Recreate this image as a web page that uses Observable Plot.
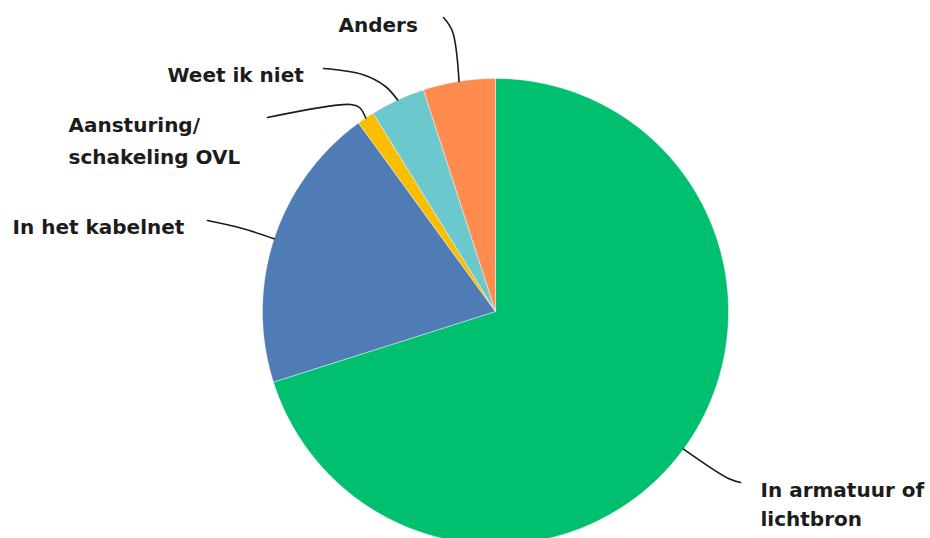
<!DOCTYPE html>
<html><head><meta charset="utf-8">
<script src="https://cdn.jsdelivr.net/npm/d3@7"></script>
<script src="https://cdn.jsdelivr.net/npm/@observablehq/plot@0.6"></script>
<style>body{margin:0;background:#fff;overflow:hidden}</style>
</head><body><div id="chart"></div>
<script>
// Data
const categories = ["In armatuur of lichtbron", "In het kabelnet", "Aansturing/ schakeling OVL", "Weet ik niet", "Anders"];
const values = [70.1, 19.9, 1.2, 3.8, 5.0];
const colors = ["#00BF6F", "#507CB6", "#F9BE00", "#6BC8CD", "#FF8B4F"];
const labelText = ["In armatuur of\nlichtbron", "In het kabelnet", "Aansturing/\nschakeling OVL", "Weet ik niet", "Anders"];

// Layout (pixels)
const W = 930, H = 538;
const cx = 495, cy = 311, R = 233;
const labelPos = [[760, 476], [12, 216], [68, 109], [167, 64], [338, 14]];
const labelLineHeight = [1.45, 1.2, 1.6, 1.2, 1.2];
// leader line: start point near label + bend points (end is computed on the slice)
const leaderBends = [
  [[740, 482], [728, 478]],
  [[207, 220], [242, 228]],
  [[267, 117], [350, 104], [359, 107]],
  [[323, 68], [362, 74], [385, 86]],
  [[443, 17], [452, 31]]
];

const pie = d3.pie().sort(null).value(d => d.value)(categories.map((c, i) => ({c, value: values[i], i})));
const pt = (a, r) => ({x: cx + r * Math.sin(a), y: cy - r * Math.cos(a)});

const slices = pie.map(p => {
  const n = Math.max(2, Math.ceil((p.endAngle - p.startAngle) / (Math.PI / 360)));
  const pts = [pt(0, 0)];
  for (let k = 0; k <= n; k++) pts.push(pt(p.startAngle + (p.endAngle - p.startAngle) * k / n, R));
  pts.push(pt(0, 0));
  return {i: p.data.i, pts};
});

const leaders = pie.map(p => {
  const i = p.data.i;
  const mid = (p.startAngle + p.endAngle) / 2;
  const pts = leaderBends[i].map(([x, y]) => ({x, y}));
  pts.push(pt(mid, R));
  return pts;
});

const marks = [];
slices.forEach(s => marks.push(Plot.line(s.pts, {x: "x", y: "y", fill: colors[s.i], stroke: "#ffffff", strokeWidth: 0.6, strokeOpacity: 0.7, curve: "linear-closed"})));
leaders.forEach(l => marks.push(Plot.line(l, {x: "x", y: "y", stroke: "#1a1a1a", strokeWidth: 1.6, curve: "catmull-rom"})));
categories.forEach((c, i) => marks.push(Plot.text([{text: labelText[i], x: labelPos[i][0], y: labelPos[i][1]}], {
  x: "x", y: "y", text: "text", textAnchor: "start", lineAnchor: "top", lineHeight: labelLineHeight[i],
  fontSize: 20, fontWeight: "bold", fill: "#1c1c1c", fontFamily: "DejaVu Sans"})));

const chart = Plot.plot({
  width: W, height: H,
  margin: 0,
  x: {type: "linear", domain: [0, W], range: [0, W], axis: null},
  y: {type: "linear", domain: [0, H], range: [0, H], axis: null},
  style: {background: "#fff", overflow: "hidden"},
  marks
});
document.getElementById("chart").appendChild(chart);
</script>
</body></html>
